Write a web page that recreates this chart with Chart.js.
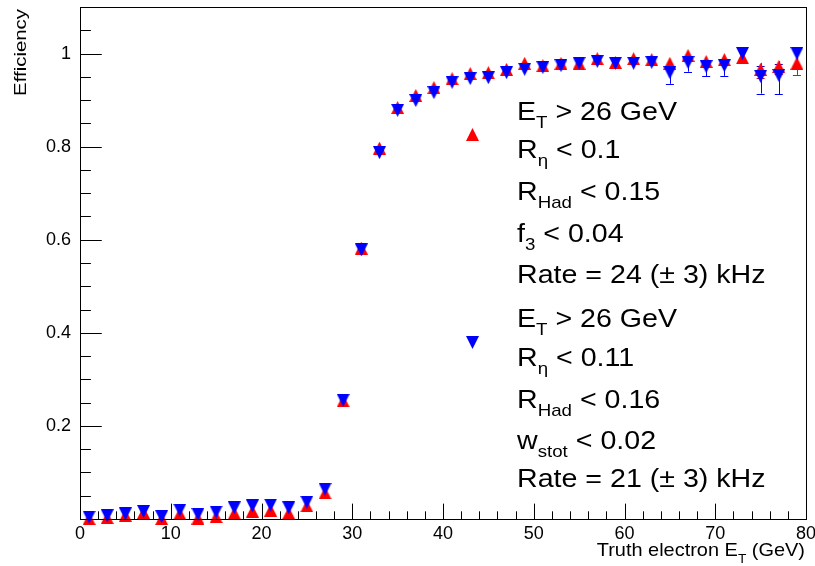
<!DOCTYPE html>
<html>
<head>
<meta charset="utf-8">
<script src="https://cdn.jsdelivr.net/npm/chart.js@4.4.1/dist/chart.umd.min.js"></script>
<style>
  html, body { margin: 0; padding: 0; background: #fff; }
</style>
</head>
<body>
<canvas id="effChart" width="815" height="566"></canvas>
<script>
// bin centres, truth electron ET (GeV)
const etBins = [1, 3, 5, 7, 9, 11, 13, 15, 17, 19, 21, 23, 25, 27, 29, 31, 33, 35, 37, 39,
                41, 43, 45, 47, 49, 51, 53, 55, 57, 59, 61, 63, 65, 67, 69, 71, 73, 75, 77, 79];

// red: ET>26, Reta<0.1, RHad<0.15, f3<0.04
const effRed = [0.001, 0.003, 0.008, 0.014, 0.001, 0.012, 0.002, 0.005, 0.013, 0.017,
                0.019, 0.013, 0.028, 0.056, 0.254, 0.582, 0.797, 0.884, 0.910, 0.927,
                0.946, 0.957, 0.959, 0.966, 0.979, 0.974, 0.979, 0.979, 0.989, 0.981,
                0.989, 0.987, 0.979, 0.996, 0.983, 0.987, 0.991, 0.966, 0.972, 0.979];
const errRedLo = [0.002, 0.002, 0.002, 0.002, 0.002, 0.002, 0.002, 0.002, 0.002, 0.002,
                  0.002, 0.002, 0.003, 0.004, 0.01, 0.01, 0.01, 0.006, 0.006, 0.006,
                  0.006, 0.006, 0.006, 0.006, 0.006, 0.006, 0.006, 0.006, 0.006, 0.006,
                  0.006, 0.006, 0.008, 0.006, 0.01, 0.009, 0.008, 0.018, 0.016, 0.025];
const errRedHi = [0.002, 0.002, 0.002, 0.002, 0.002, 0.002, 0.002, 0.002, 0.002, 0.002,
                  0.002, 0.002, 0.003, 0.004, 0.01, 0.01, 0.01, 0.006, 0.006, 0.006,
                  0.006, 0.005, 0.005, 0.005, 0.005, 0.005, 0.005, 0.005, 0.004, 0.005,
                  0.004, 0.005, 0.007, 0.003, 0.007, 0.006, 0.005, 0.014, 0.012, 0.012];

// blue: ET>26, Reta<0.11, RHad<0.16, wstot<0.02
const effBlue = [0.004, 0.007, 0.011, 0.016, 0.005, 0.019, 0.010, 0.015, 0.024, 0.028,
                 0.030, 0.024, 0.036, 0.064, 0.255, 0.578, 0.787, 0.878, 0.899, 0.916,
                 0.938, 0.946, 0.948, 0.959, 0.966, 0.970, 0.974, 0.979, 0.983, 0.979,
                 0.979, 0.981, 0.959, 0.981, 0.972, 0.974, 1.0, 0.951, 0.953, 1.0];
const errBlueLo = [0.002, 0.002, 0.002, 0.002, 0.002, 0.002, 0.002, 0.002, 0.002, 0.002,
                   0.002, 0.002, 0.003, 0.004, 0.01, 0.01, 0.01, 0.006, 0.006, 0.006,
                   0.006, 0.006, 0.006, 0.006, 0.006, 0.006, 0.006, 0.006, 0.006, 0.006,
                   0.006, 0.008, 0.024, 0.02, 0.021, 0.022, 0.012, 0.037, 0.04, 0.03];
const errBlueHi = [0.002, 0.002, 0.002, 0.002, 0.002, 0.002, 0.002, 0.002, 0.002, 0.002,
                   0.002, 0.002, 0.003, 0.004, 0.01, 0.01, 0.01, 0.006, 0.006, 0.006,
                   0.006, 0.005, 0.005, 0.005, 0.005, 0.005, 0.005, 0.005, 0.005, 0.005,
                   0.005, 0.006, 0.014, 0.01, 0.012, 0.012, 0, 0.022, 0.024, 0];

const xTicks = [0, 10, 20, 30, 40, 50, 60, 70, 80];
const yTicks = [0.2, 0.4, 0.6, 0.8, 1];

// legend lines: odd pieces are subscripts
const legendRed = [['E', 'T', ' > 26 GeV'], ['R', 'η', ' < 0.1'], ['R', 'Had', ' < 0.15'],
                   ['f', '3', ' < 0.04'], ['Rate = 24 (± 3) kHz']];
const legendBlue = [['E', 'T', ' > 26 GeV'], ['R', 'η', ' < 0.11'], ['R', 'Had', ' < 0.16'],
                    ['w', 'stot', ' < 0.02'], ['Rate = 21 (± 3) kHz']];

const RED = '#ff0000';
const BLUE = '#0000ff';
const FONT = '"Liberation Sans", Arial, sans-serif';

// ROOT style triangle markers (as wide as they are tall)
function makeTriangle(color, up, s) {
    const c = document.createElement('canvas');
    c.width = s; c.height = s;
    const g = c.getContext('2d');
    g.fillStyle = color;
    g.beginPath();
    if (up) { g.moveTo(0, s); g.lineTo(s, s); g.lineTo(s / 2, 0); }
    else { g.moveTo(0, 0); g.lineTo(s, 0); g.lineTo(s / 2, s); }
    g.closePath();
    g.fill();
    return c;
}
const triUp = makeTriangle(RED, true, 13);
const triDown = makeTriangle(BLUE, false, 13);

// draws text pieces, odd pieces as subscripts; returns the unscaled width
function drawRich(ctx, x, y, parts, size, subSize, drop, sx, dryRun) {
    ctx.save();
    ctx.translate(x, y);
    ctx.scale(sx, 1);
    ctx.textAlign = 'left';
    ctx.textBaseline = 'alphabetic';
    let cx = 0;
    parts.forEach((t, k) => {
        const sub = k % 2 === 1;
        ctx.font = (sub ? subSize : size) + 'px ' + FONT;
        if (!dryRun) ctx.fillText(t, cx, sub ? drop : 0);
        cx += ctx.measureText(t).width;
    });
    ctx.restore();
    return cx;
}

const errBars = [
    { lo: errRedLo, hi: errRedHi, color: RED },
    { lo: errBlueLo, hi: errBlueHi, color: BLUE }
];

// no label overhang padding: the frame is placed by layout.padding only
const noPad = s => { s.paddingTop = 0; s.paddingBottom = 0; s.paddingLeft = 0; s.paddingRight = 0; };

const rootFrame = {
    id: 'rootFrame',
    beforeDatasetsDraw(chart) {
        const ctx = chart.ctx;
        const xs = chart.scales.x, ys = chart.scales.y;
        ctx.save();
        ctx.lineWidth = 1;
        chart.data.datasets.forEach((ds, d) => {
            const e = errBars[d];
            ctx.strokeStyle = e.color;
            ds.data.forEach((p, i) => {
                const px = xs.getPixelForValue(p.x);
                const py = ys.getPixelForValue(p.y);
                const pLo = ys.getPixelForValue(p.y - e.lo[i]);
                const pHi = ys.getPixelForValue(p.y + e.hi[i]);
                ctx.beginPath();
                ctx.moveTo(Math.round(px) + 0.5, pLo);
                ctx.lineTo(Math.round(px) + 0.5, pHi);
                ctx.stroke();
                [pLo, pHi].forEach(pe => {
                    if (Math.abs(pe - py) > 7) {
                        ctx.beginPath();
                        ctx.moveTo(px - 4, Math.round(pe) + 0.5);
                        ctx.lineTo(px + 4, Math.round(pe) + 0.5);
                        ctx.stroke();
                    }
                });
            });
        });
        ctx.restore();
    },
    afterDraw(chart) {
        const ctx = chart.ctx;
        const a = chart.chartArea;
        const xs = chart.scales.x, ys = chart.scales.y;
        ctx.save();
        ctx.strokeStyle = '#000';
        ctx.lineWidth = 1;
        // frame
        ctx.strokeRect(Math.round(a.left) + 0.5, Math.round(a.top) + 0.5,
                       Math.round(a.right - a.left), Math.round(a.bottom - a.top));
        // x ticks: major every 10, minor every 2
        const xMajor = 0.03 * (a.bottom - a.top);
        for (let v = 0; v <= 80; v += 2) {
            const px = Math.round(xs.getPixelForValue(v)) + 0.5;
            const len = v % 10 === 0 ? xMajor : xMajor / 2;
            ctx.beginPath();
            ctx.moveTo(px, a.bottom);
            ctx.lineTo(px, a.bottom - len);
            ctx.stroke();
        }
        // y ticks: major every 0.2, minor every 0.05
        const yMajor = 0.03 * (a.right - a.left);
        for (let k = 0; k <= 22; k++) {
            const v = k * 0.05;
            const py = Math.round(ys.getPixelForValue(v)) + 0.5;
            const len = k % 4 === 0 ? yMajor : yMajor / 2;
            ctx.beginPath();
            ctx.moveTo(a.left, py);
            ctx.lineTo(a.left + len, py);
            ctx.stroke();
        }
        ctx.fillStyle = '#000';
        // y title
        ctx.save();
        ctx.translate(26, 9);
        ctx.rotate(-Math.PI / 2);
        ctx.scale(1.2, 1);
        ctx.font = '17px ' + FONT;
        ctx.textAlign = 'right';
        ctx.textBaseline = 'alphabetic';
        ctx.fillText('Efficiency', 0, 0);
        ctx.restore();
        // x title, right aligned to the frame
        const xt = ['Truth electron E', 'T', ' (GeV)'];
        const sx = 1.05;
        const w = drawRich(ctx, 0, 0, xt, 19, 13, 7, sx, true) * sx;
        drawRich(ctx, a.right - 1 - w, 556, xt, 19, 13, 7, sx, false);
        // legend markers
        ctx.drawImage(triUp, 466, 128);
        ctx.drawImage(triDown, 466, 336);
        // legend text
        const redBase = [120, 158, 200, 242, 283];
        const blueBase = [327, 366, 408, 449, 487];
        legendRed.forEach((ln, i) => drawRich(ctx, 517, redBase[i], ln, 26, 17, 8, 1.1, false));
        legendBlue.forEach((ln, i) => drawRich(ctx, 517, blueBase[i], ln, 26, 17, 8, 1.1, false));
        ctx.restore();
    }
};

const tickFont = { family: FONT, size: 18 };

new Chart(document.getElementById('effChart'), {
    type: 'scatter',
    data: {
        datasets: [
            {
                label: 'loose',
                data: etBins.map((x, i) => ({ x: x, y: effRed[i] })),
                pointStyle: triUp,
                pointRadius: 7,
                clip: false,
                order: 2
            },
            {
                label: 'tight',
                data: etBins.map((x, i) => ({ x: x, y: effBlue[i] })),
                pointStyle: triDown,
                pointRadius: 7,
                clip: false,
                order: 1
            }
        ]
    },
    options: {
        responsive: false,
        animation: false,
        events: [],
        layout: { autoPadding: false, padding: { top: 7, right: 9, left: 0, bottom: 0 } },
        plugins: { legend: { display: false }, tooltip: { enabled: false } },
        scales: {
            x: {
                type: 'linear', min: 0, max: 80,
                grid: { display: false, drawTicks: false }, border: { display: false },
                afterBuildTicks: s => { s.ticks = xTicks.map(v => ({ value: v })); },
                afterFit: s => { s.height = 47; noPad(s); },
                ticks: { color: '#000', font: tickFont, padding: 4, maxRotation: 0, autoSkip: false,
                         callback: v => String(v) }
            },
            y: {
                type: 'linear', min: 0, max: 1.1,
                grid: { display: false, drawTicks: false }, border: { display: false },
                afterBuildTicks: s => { s.ticks = yTicks.map(v => ({ value: v })); },
                afterFit: s => { s.width = 80; noPad(s); },
                ticks: { color: '#000', font: tickFont, padding: 9, autoSkip: false,
                         callback: v => String(v) }
            }
        }
    },
    plugins: [rootFrame]
});
</script>
</body>
</html>
